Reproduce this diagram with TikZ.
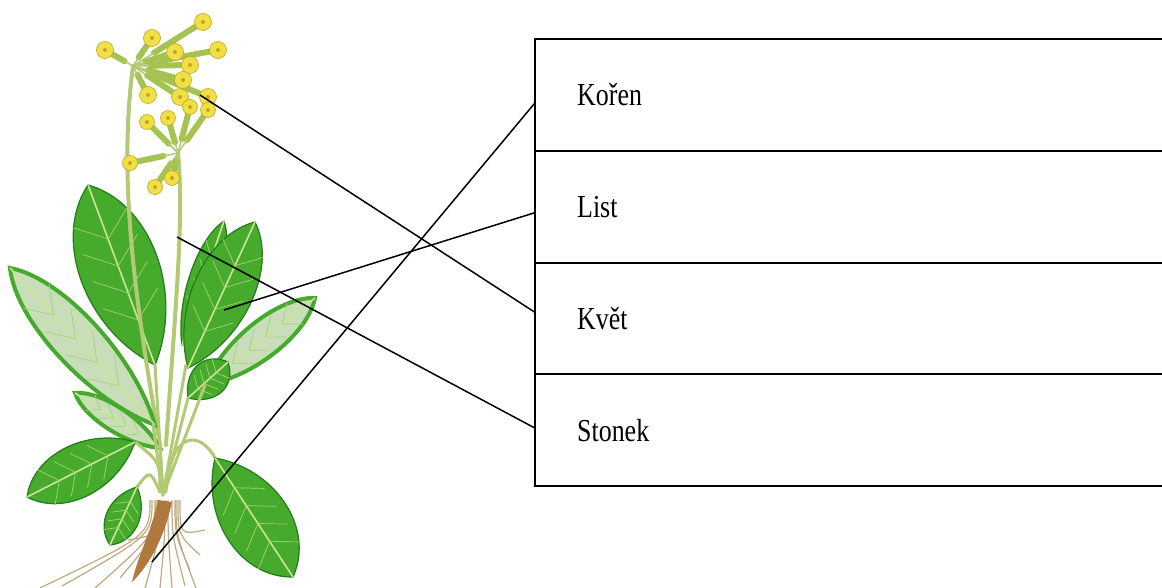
\documentclass[tikz,border=0pt]{standalone}
\usepackage{fontspec}
\setmainfont{Liberation Serif}[FakeStretch=0.81]
\usepackage{xcolor}
\usetikzlibrary{
    calc,
    positioning
}

\definecolor{leafgreen}{RGB}{70,170,45}
\definecolor{leafdark}{RGB}{35,125,25}
\definecolor{leafpale}{RGB}{200,222,185}
\definecolor{veincol}{RGB}{205,228,150}
\definecolor{stalkgreen}{RGB}{178,202,115}
\definecolor{calyxgreen}{RGB}{165,195,80}
\definecolor{flowery}{RGB}{238,224,70}
\definecolor{flowerdark}{RGB}{200,165,30}
\definecolor{rootbrown}{RGB}{175,120,60}
\definecolor{roottan}{RGB}{190,170,125}

\tikzset{
    rowbox/.style={draw, line width=2pt, minimum width=660pt, minimum height=111.75pt,
        inner sep=0pt, outer sep=0pt, anchor=north west},
    rowtext/.style={font=\fontsize{32}{38}\selectfont, inner sep=0pt, anchor=base west},
    connector/.style={line width=1.5pt},
    leaffill/.style={fill=leafgreen, draw=leafdark, line width=1.2pt},
    leaflite/.style={fill=leafpale, draw=leafgreen, line width=4pt},
    vein/.style={draw=veincol, line width=1.6pt},
    sidevein/.style={draw=veincol!70!leafgreen, line width=0.7pt},
    stalk/.style={draw=stalkgreen, line width=4pt, line cap=round},
    petiole/.style={draw=stalkgreen, line width=3pt, line cap=round},
    calyx/.style={draw=calyxgreen, line width=6pt, line cap=round},
    petal/.style={fill=flowery, draw=flowerdark, line width=0.6pt},
    rootmain/.style={fill=rootbrown},
    rootline/.style={draw=roottan, line width=1.2pt}
}

% leaf from base #2 to tip #3, #4 = bulge of the edges
\newcommand{\leaf}[4][leaffill]{%
    \filldraw[#1] (#2) .. controls ($(#2)!0.3!(#3)!#4pt!90:(#3)$) and ($(#2)!0.8!(#3)!#4pt!90:(#3)$) .. (#3)
        .. controls ($(#2)!0.8!(#3)!#4pt!-90:(#3)$) and ($(#2)!0.3!(#3)!#4pt!-90:(#3)$) .. (#2) -- cycle;
    \draw[vein] (#2) -- (#3);
    \foreach \t in {0.25,0.4,0.55,0.7} {
        \draw[sidevein] ($(#2)!\t!(#3)$) -- ($(#2)!{\t+0.12}!(#3)!{0.55*#4pt}!90:(#3)$);
        \draw[sidevein] ($(#2)!\t!(#3)$) -- ($(#2)!{\t+0.12}!(#3)!{0.55*#4pt}!-90:(#3)$);
    }%
}

\begin{document}
\begin{tikzpicture}[x=1pt, y=-1pt]
    \useasboundingbox (0,0) rectangle (1162,588);

    % leaves behind the stalks
    \leaf{155,365}{88,185}{53}
    \leaf{182,345}{224,221}{20}
    \leaf{188,368}{255,222}{40}

    % flower stalks
    \draw[stalk] (160,445) .. controls (135,300) and (118,180) .. (133,66);
    \draw[stalk] (166,445) .. controls (176,300) and (184,220) .. (178,153);

    % umbels
    \foreach \fx/\fy in {105/50,152/38,203/22,218/50,175/52,190/65,148/95,180/97,208/97,183/80} {
        \draw[calyx] ($(133,66)!0.3!(\fx,\fy)$) -- (\fx,\fy);
        \draw[stalk, line width=1.5pt] (133,66) -- ($(133,66)!0.3!(\fx,\fy)$);
        \filldraw[petal] (\fx,\fy) circle[radius=8.5pt];
        \fill[flowerdark] (\fx,\fy) circle[radius=2pt];
    }
    \foreach \fx/\fy in {147/122,168/118,190/107,208/110,130/163,155/187,172/178} {
        \draw[calyx] ($(178,153)!0.3!(\fx,\fy)$) -- (\fx,\fy);
        \draw[stalk, line width=1.5pt] (178,153) -- ($(178,153)!0.3!(\fx,\fy)$);
        \filldraw[petal] (\fx,\fy) circle[radius=7.5pt];
        \fill[flowerdark] (\fx,\fy) circle[radius=2pt];
    }

    % front leaves
    \leaf[leaflite]{155,425}{10,268}{32}
    \leaf[leaflite]{205,385}{315,298}{24}
    \leaf{188,398}{228,362}{24}
    \leaf[leaflite]{160,448}{75,393}{16}

    % petioles
    \foreach \bx/\by in {155/365,186/365,153/425,205/385,160/445,188/398} {
        \draw[petiole] (163,495) -- (\bx,\by);
    }
    \draw[petiole] (160,492) .. controls (160,462) .. (135,442);
    \draw[petiole] (160,492) .. controls (150,470) .. (137,487);
    \draw[petiole] (166,492) .. controls (170,430) and (200,430) .. (215,458);

    \leaf{135,442}{27,497}{35}
    \leaf{137,487}{110,545}{22}
    \leaf{215,458}{293,577}{45}

    % roots
    \foreach \sx/\ex/\ey in {150/40/588,152/62/586,155/95/588,156/120/578,160/145/588,
                             165/160/588,168/172/588,172/185/586,175/190/570,178/200/555,
                             180/205/530,176/196/588,158/128/540} {
        \draw[rootline] (\sx,500) .. controls (\sx,535) .. (\ex,\ey);
    }
    \fill[rootmain] (158,500) -- (172,502) .. controls (165,535) and (150,565) .. (132,582)
        .. controls (138,555) and (152,530) .. (158,500) -- cycle;

    % table of parts
    \node[rowbox] (koren) at (535,39) {};
    \node[rowbox, below=0pt of koren] (list) {};
    \node[rowbox, below=0pt of list] (kvet) {};
    \node[rowbox, below=0pt of kvet] (stonek) {};
    \node[rowtext] (korentext) at ($(koren.west)+(42,11)$) {Kořen};
    \node[rowtext] (listtext) at ($(list.west)+(42,11)$) {List};
    \node[rowtext] (kvettext) at ($(kvet.west)+(42,11)$) {Květ};
    \node[rowtext] (stonektext) at ($(stonek.west)+(42,11)$) {Stonek};

    % connectors
    \coordinate (rootpt) at (152,562);
    \coordinate (leafpt) at (224,310);
    \coordinate (flowerpt) at (200,95);
    \coordinate (stempt) at (177,237);
    \draw[connector] (rootpt) -- ($(koren.west)+(0,8)$);
    \draw[connector] (leafpt) -- ($(list.west)+(0,6)$);
    \draw[connector] (flowerpt) -- ($(kvet.west)+(0,-6)$);
    \draw[connector] (stempt) -- ($(stonek.west)+(0,-2)$);
\end{tikzpicture}
\end{document}
